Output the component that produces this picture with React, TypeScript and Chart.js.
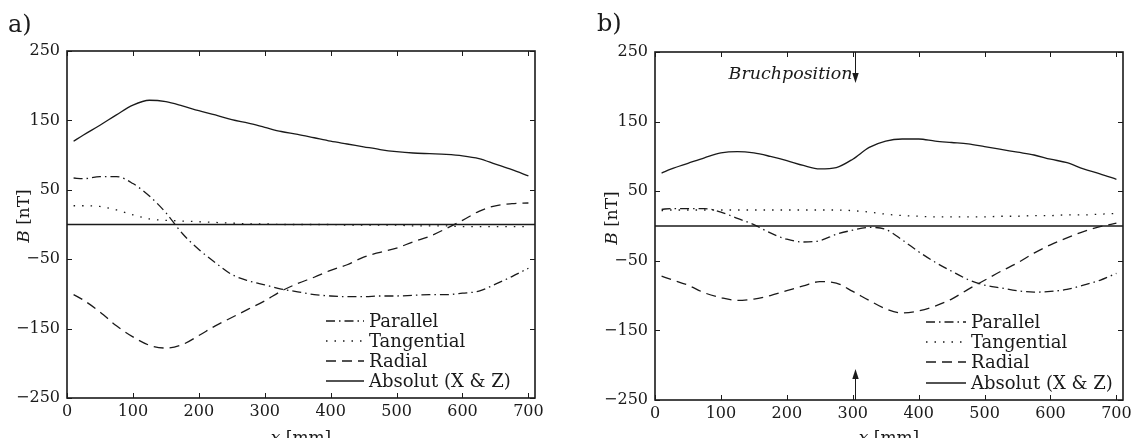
import React, { useEffect, useRef } from "react";
import { Chart, registerables } from "chart.js";

Chart.register(...registerables);

// ---------- data ----------
const xPositions = [10, 25, 50, 75, 100, 125, 150, 175, 200, 225, 250, 275, 300, 325, 350, 375, 400, 425, 450, 475, 500, 525, 550, 575, 600, 625, 650, 675, 700];
const xTicks = [0, 100, 200, 300, 400, 500, 600, 700];
const yTicks = [-250, -150, -50, 50, 150, 250];
const legendLabels = ["Parallel", "Tangential", "Radial", "Absolut (X & Z)"];

const aParallel = [67, 66, 69, 69, 59, 41, 17, -13, -36, -55, -72, -81, -87, -93, -97, -101, -103, -104, -104, -103, -103, -102, -101, -101, -99, -96, -86, -75, -63];
const aTangential = [27, 27, 26, 21, 14, 8, 6, 5, 4, 3, 2, 1, 1, 0, 0, 0, 0, -1, -1, -1, -1, -2, -2, -2, -3, -3, -3, -3, -3];
const aRadial = [-101, -109, -126, -146, -162, -174, -178, -173, -160, -146, -134, -122, -110, -96, -85, -76, -66, -58, -47, -40, -34, -25, -17, -6, 6, 19, 27, 30, 31];
const aAbsolut = [120, 129, 143, 158, 172, 179, 177, 171, 164, 158, 151, 146, 140, 134, 130, 125, 120, 116, 112, 108, 105, 103, 102, 101, 99, 95, 87, 79, 70];

const bParallel = [24, 25, 25, 25, 20, 11, 2, -10, -19, -23, -21, -12, -6, -2, -5, -20, -37, -52, -65, -77, -85, -89, -93, -95, -94, -91, -85, -78, -68];
const bTangential = [22, 23, 23, 23, 23, 23, 23, 23, 23, 23, 23, 23, 22, 20, 17, 15, 14, 13, 13, 13, 13, 14, 14, 15, 15, 16, 16, 17, 18];
const bRadial = [-72, -77, -85, -96, -103, -107, -105, -100, -93, -86, -80, -82, -94, -107, -119, -125, -122, -115, -105, -91, -78, -65, -53, -39, -27, -17, -8, -1, 4];
const bAbsolut = [76, 82, 90, 98, 105, 107, 105, 100, 94, 87, 82, 84, 96, 113, 122, 125, 125, 122, 120, 118, 114, 110, 106, 102, 96, 91, 82, 75, 67];

const breakPosition = 304;

// ---------- styles ----------
const INK = "#1a1a1a";
const SERIF = "'DejaVu Serif', 'Liberation Serif', serif";
const dashes = [[9, 4, 1.5, 4], [1.5, 7], [10, 6], []];

type PanelCfg = {
  panel: string;
  series: number[][];
  width: number;
  padRight: number;
  padTop: number;
  yWidth: number;
  xHeight: number;
  panelLabelX: number;
  panelLabelY: number;
  yTitleX: number;
  yTitleY: number;
  legendLineX0: number;
  legendLineX1: number;
  legendTextX: number;
  legendRowsY: number[];
  annotate: boolean;
};

function fmt(v: number) {
  return v < 0 ? "\u2212" + Math.abs(v) : String(v);
}

function Panel({ cfg, left }: { cfg: PanelCfg; left: number }) {
  const ref = useRef<HTMLCanvasElement | null>(null);
  useEffect(() => {
    const canvas = ref.current;
    if (!canvas) return;

    const decor = {
      id: "decor",
      beforeDatasetsDraw(chart: any) {
        const { ctx, chartArea: a, scales } = chart;
        const y0 = scales.y.getPixelForValue(0);
        ctx.save();
        ctx.strokeStyle = INK;
        ctx.lineWidth = 1.3;
        ctx.beginPath();
        ctx.moveTo(a.left, y0);
        ctx.lineTo(a.right, y0);
        ctx.stroke();
        ctx.restore();
      },
      afterDatasetsDraw(chart: any) {
        const { ctx, chartArea: a, scales } = chart;
        const xs = scales.x;
        const ys = scales.y;
        ctx.save();
        ctx.strokeStyle = INK;
        ctx.fillStyle = INK;
        ctx.setLineDash([]);
        // frame
        ctx.lineWidth = 1.6;
        ctx.strokeRect(a.left, a.top, a.right - a.left, a.bottom - a.top);
        // inward ticks
        ctx.lineWidth = 1;
        const tl = 5;
        ctx.beginPath();
        xTicks.forEach((v) => {
          const px = Math.round(xs.getPixelForValue(v)) + 0.5;
          ctx.moveTo(px, a.bottom);
          ctx.lineTo(px, a.bottom - tl);
          ctx.moveTo(px, a.top);
          ctx.lineTo(px, a.top + tl);
        });
        yTicks.forEach((v) => {
          const py = Math.round(ys.getPixelForValue(v)) + 0.5;
          ctx.moveTo(a.left, py);
          ctx.lineTo(a.left + tl, py);
          ctx.moveTo(a.right, py);
          ctx.lineTo(a.right - tl, py);
        });
        ctx.stroke();

        // legend
        ctx.font = `18px ${SERIF}`;
        ctx.textBaseline = "middle";
        ctx.textAlign = "left";
        legendLabels.forEach((lab, i) => {
          const ry = cfg.legendRowsY[i];
          ctx.save();
          ctx.lineWidth = 1.3;
          ctx.setLineDash(dashes[i]);
          ctx.beginPath();
          ctx.moveTo(cfg.legendLineX0, ry);
          ctx.lineTo(cfg.legendLineX1, ry);
          ctx.stroke();
          ctx.restore();
          ctx.fillText(lab, cfg.legendTextX, ry + 1);
        });

        // panel label
        ctx.font = `24px ${SERIF}`;
        ctx.textBaseline = "alphabetic";
        ctx.fillText(cfg.panel, cfg.panelLabelX, cfg.panelLabelY);

        // y title (rotated)
        ctx.save();
        ctx.translate(cfg.yTitleX, cfg.yTitleY);
        ctx.rotate(-Math.PI / 2);
        const fI = `italic 17px ${SERIF}`;
        const fN = `17px ${SERIF}`;
        ctx.font = fI;
        const wB = ctx.measureText("B").width;
        ctx.font = fN;
        const wR = ctx.measureText(" [nT]").width;
        let sx = -(wB + wR) / 2;
        ctx.font = fI;
        ctx.fillText("B", sx, 0);
        ctx.font = fN;
        ctx.fillText(" [nT]", sx + wB, 0);
        ctx.restore();

        // x title
        ctx.font = fI;
        const wx = ctx.measureText("x").width;
        ctx.font = fN;
        const wm = ctx.measureText(" [mm]").width;
        const cx = (a.left + a.right) / 2 - (wx + wm) / 2;
        ctx.font = fI;
        ctx.fillText("x", cx, 443);
        ctx.font = fN;
        ctx.fillText(" [mm]", cx + wx, 443);

        // annotation
        if (cfg.annotate) {
          const px = Math.round(xs.getPixelForValue(breakPosition)) + 0.5;
          const L = 31;
          const drawArrow = (yStart: number, dir: number) => {
            const tip = yStart + dir * L;
            ctx.lineWidth = 1;
            ctx.beginPath();
            ctx.moveTo(px, yStart);
            ctx.lineTo(px, tip - dir * 6);
            ctx.stroke();
            ctx.beginPath();
            ctx.moveTo(px, tip);
            ctx.lineTo(px - 3.2, tip - dir * 10);
            ctx.lineTo(px + 3.2, tip - dir * 10);
            ctx.closePath();
            ctx.fill();
          };
          drawArrow(a.top, 1);
          drawArrow(a.bottom, -1);
          let fs = 17;
          ctx.font = `italic ${fs}px ${SERIF}`;
          const w = ctx.measureText("Bruchposition").width;
          fs = Math.max(12, Math.min(19, (fs * 124) / w));
          ctx.font = `italic ${fs}px ${SERIF}`;
          ctx.textAlign = "right";
          ctx.fillText("Bruchposition", px - 3, 79);
        }
        ctx.restore();
      },
    };

    const chart = new Chart(canvas, {
      type: "line",
      data: {
        datasets: cfg.series.map((vals, i) => ({
          label: legendLabels[i],
          data: xPositions.map((x, k) => ({ x, y: vals[k] })),
          borderColor: INK,
          borderWidth: 1.3,
          borderDash: dashes[i],
          pointRadius: 0,
          fill: false,
          cubicInterpolationMode: "monotone" as const,
        })),
      },
      options: {
        responsive: false,
        animation: false,
        devicePixelRatio: 1,
        layout: { padding: { left: 0, right: cfg.padRight, top: cfg.padTop, bottom: 0 } },
        plugins: { legend: { display: false }, tooltip: { enabled: false } },
        scales: {
          x: {
            type: "linear",
            min: 0,
            max: 710,
            grid: { display: false, drawTicks: false },
            border: { display: false },
            ticks: {
              font: { family: SERIF, size: 16 },
              color: INK,
              padding: 4,
              maxRotation: 0,
              autoSkip: false,
              callback: (v: any) => fmt(Number(v)),
            },
            afterBuildTicks: (s: any) => {
              s.ticks = xTicks.map((value) => ({ value }));
            },
            afterFit: (s: any) => {
              s.height = cfg.xHeight;
              s.paddingLeft = 0;
              s.paddingRight = 0;
            },
          },
          y: {
            type: "linear",
            min: -250,
            max: 250,
            grid: { display: false, drawTicks: false },
            border: { display: false },
            ticks: {
              font: { family: SERIF, size: 16 },
              color: INK,
              padding: 7,
              autoSkip: false,
              callback: (v: any) => fmt(Number(v)),
            },
            afterBuildTicks: (s: any) => {
              s.ticks = yTicks.map((value) => ({ value }));
            },
            afterFit: (s: any) => {
              s.width = cfg.yWidth;
              s.paddingTop = 0;
              s.paddingBottom = 0;
            },
          },
        },
      },
      plugins: [decor],
    } as any);
    return () => chart.destroy();
  }, [cfg]);

  return (
    <canvas
      ref={ref}
      width={cfg.width}
      height={438}
      style={{ position: "absolute", left, top: 0, width: cfg.width, height: 438 }}
    />
  );
}

const panelA: PanelCfg = {
  panel: "a)",
  series: [aParallel, aTangential, aRadial, aAbsolut],
  width: 566,
  padRight: 31,
  padTop: 51,
  yWidth: 67,
  xHeight: 40,
  panelLabelX: 8,
  panelLabelY: 32,
  yTitleX: 29,
  yTitleY: 216,
  legendLineX0: 326,
  legendLineX1: 364,
  legendTextX: 369,
  legendRowsY: [321, 341, 361, 381],
  annotate: false,
};

const panelB: PanelCfg = {
  panel: "b)",
  series: [bParallel, bTangential, bRadial, bAbsolut],
  width: 566,
  padRight: 9,
  padTop: 52,
  yWidth: 89,
  xHeight: 38,
  panelLabelX: 31,
  panelLabelY: 31,
  yTitleX: 51,
  yTitleY: 218,
  legendLineX0: 360,
  legendLineX1: 400,
  legendTextX: 405,
  legendRowsY: [322, 342, 362, 383],
  annotate: true,
};

export default function App() {
  return (
    <div style={{ position: "absolute", left: 0, top: 0, width: 1132, height: 438, background: "#fff", overflow: "hidden" }}>
      <Panel cfg={panelA} left={0} />
      <Panel cfg={panelB} left={566} />
    </div>
  );
}
